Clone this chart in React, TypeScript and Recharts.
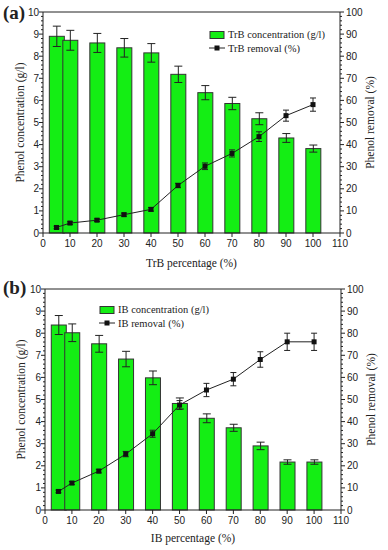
import { ComposedChart, Bar, Line, XAxis, YAxis, ErrorBar, Legend } from 'recharts'

const percentages = [5, 10, 20, 30, 40, 50, 60, 70, 80, 90, 100]

const trbConc = [8.9, 8.72, 8.6, 8.38, 8.15, 7.18, 6.35, 5.86, 5.17, 4.3, 3.82]
const trbConcErr = [0.46, 0.45, 0.43, 0.42, 0.42, 0.37, 0.32, 0.28, 0.27, 0.2, 0.16]
const trbRemoval = [2.5, 4.5, 5.8, 8.3, 10.7, 21.5, 30.2, 36, 43.6, 53.1, 58.1]
const trbRemovalErr = [0.6, 0.6, 0.6, 0.7, 0.8, 1.0, 1.5, 1.6, 2.2, 2.5, 3]

const ibConc = [8.37, 8.02, 7.52, 6.83, 5.98, 4.82, 4.15, 3.72, 2.9, 2.17, 2.17]
const ibConcErr = [0.43, 0.4, 0.38, 0.35, 0.31, 0.25, 0.2, 0.16, 0.17, 0.1, 0.1]
const ibRemoval = [8.4, 12.2, 17.6, 25.3, 34.5, 47.5, 54.3, 59.2, 68.1, 76.1, 76.1]
const ibRemovalErr = [0.6, 0.7, 0.8, 1.2, 1.6, 2, 3, 3, 3.5, 3.9, 3.9]

const xTicks = [0, 10, 20, 30, 40, 50, 60, 70, 80, 90, 100, 110]
const leftTicks = Array.from({ length: 51 }, (_, i) => Math.round(i * 2) / 10)
const rightTicks = Array.from({ length: 51 }, (_, i) => i * 2)

const GREEN = '#14ee14'
const INK = '#222'
const SERIF = '"Liberation Serif", "Times New Roman", serif'
const SANS = '"Liberation Sans", Arial, sans-serif'
const TICK_SIZE = 3
const TICK_MARGIN = 1

function LeftTick(props: any) {
  const { x, y, payload } = props
  const v = payload.value
  const major = Math.abs(v - Math.round(v)) < 1e-6
  const ax = x + TICK_SIZE + TICK_MARGIN
  return (
    <g>
      <line x1={ax} x2={ax - (major ? 4 : 2)} y1={y} y2={y} stroke={INK} />
      {major && (
        <text x={x} y={y} dy="0.35em" textAnchor="end" fontSize={10} fontFamily={SANS} fill={INK}>
          {Math.round(v)}
        </text>
      )}
    </g>
  )
}

function RightTick(props: any) {
  const { x, y, payload } = props
  const v = payload.value
  const major = v % 10 === 0
  const ax = x - TICK_SIZE - TICK_MARGIN
  return (
    <g>
      <line x1={ax} x2={ax + (major ? 4 : 2)} y1={y} y2={y} stroke={INK} />
      {major && (
        <text x={x + 2} y={y} dy="0.35em" textAnchor="start" fontSize={10} fontFamily={SANS} fill={INK}>
          {v}
        </text>
      )}
    </g>
  )
}

function BarShape(props: any) {
  const { x, y, width, height } = props
  const w = 15
  const cx = x + width / 2
  return <rect x={cx - w / 2} y={y} width={w} height={height} fill={GREEN} stroke="#333" strokeWidth={1} />
}

function SquareDot(props: any) {
  const { cx, cy } = props
  if (cx == null || cy == null) return null
  return <rect x={cx - 2.5} y={cy - 2.5} width={5} height={5} fill="#111" />
}

function LegendBox({ name }: { name: string }) {
  const row = { display: 'flex', alignItems: 'center', height: 13.5 }
  const txt = { fontFamily: SERIF, fontSize: 10.5, color: INK, marginLeft: 3, whiteSpace: 'nowrap' as const }
  return (
    <div>
      <div style={row}>
        <svg width={16} height={10}>
          <rect x={1} y={1.5} width={14} height={7} fill={GREEN} stroke="#333" />
        </svg>
        <span style={txt}>{name} concentration (g/l)</span>
      </div>
      <div style={row}>
        <svg width={16} height={10}>
          <line x1={0} x2={16} y1={5} y2={5} stroke={INK} strokeWidth={1} />
          <rect x={5.5} y={2.5} width={5} height={5} fill="#111" />
        </svg>
        <span style={txt}>{name} removal (%)</span>
      </div>
    </div>
  )
}

interface PanelProps {
  tag: string
  name: string
  conc: number[]
  concErr: number[]
  removal: number[]
  removalErr: number[]
  top: number
  marginTop: number
  leftWidth: number
  rightWidth: number
  legendLeft: number
}

function Panel({ tag, name, conc, concErr, removal, removalErr, top, marginTop, leftWidth, rightWidth, legendLeft }: PanelProps) {
  const data = percentages.map((p, i) => ({
    pct: p,
    conc: conc[i],
    concErr: concErr[i],
    rem: removal[i],
    remErr: removalErr[i],
  }))
  const plotBottom = marginTop + 1 + 220
  return (
    <div style={{ position: 'absolute', left: 0, top, width: 388, height: 275 }}>
      <ComposedChart width={388} height={275} data={data} margin={{ top: marginTop, right: 0, left: 0, bottom: 0 }}>
        <XAxis
          dataKey="pct"
          type="number"
          domain={[0, 110]}
          ticks={xTicks}
          interval={0}
          height={275 - plotBottom}
          tickSize={4}
          tickMargin={3}
          stroke={INK}
          tick={{ fontSize: 10, fontFamily: SANS, fill: INK }}
          label={{ value: `${name} percentage (%)`, position: 'insideBottom', offset: 8, style: { fontFamily: SERIF, fontSize: 11.5, fill: INK } }}
        />
        <XAxis
          xAxisId="top"
          dataKey="pct"
          type="number"
          orientation="top"
          domain={[0, 110]}
          ticks={xTicks}
          interval={0}
          height={1}
          mirror
          tick={false}
          tickSize={4}
          stroke={INK}
        />
        <YAxis
          yAxisId="conc"
          domain={[0, 10]}
          ticks={leftTicks}
          interval={0}
          width={leftWidth}
          tickSize={TICK_SIZE}
          tickMargin={TICK_MARGIN}
          tickLine={false}
          stroke={INK}
          tick={<LeftTick />}
          label={{ value: 'Phenol concentration (g/l)', angle: -90, position: 'center', dx: -2, style: { fontFamily: SERIF, fontSize: 11.5, fill: INK } }}
        />
        <YAxis
          yAxisId="rem"
          orientation="right"
          domain={[0, 100]}
          ticks={rightTicks}
          interval={0}
          width={rightWidth}
          tickSize={TICK_SIZE}
          tickMargin={TICK_MARGIN}
          tickLine={false}
          stroke={INK}
          tick={<RightTick />}
          label={{ value: 'Phenol removal (%)', angle: -90, position: 'center', dx: 6, style: { fontFamily: SERIF, fontSize: 11.5, fill: INK } }}
        />
        <Bar yAxisId="conc" dataKey="conc" barSize={15} shape={<BarShape />} isAnimationActive={false}>
          <ErrorBar dataKey="concErr" width={4} stroke={INK} strokeWidth={1} direction="y" />
        </Bar>
        <Line
          yAxisId="rem"
          dataKey="rem"
          stroke={INK}
          strokeWidth={1}
          dot={<SquareDot />}
          activeDot={false}
          isAnimationActive={false}
        >
          <ErrorBar dataKey="remErr" width={3} stroke={INK} strokeWidth={1} direction="y" />
        </Line>
        <Legend
          layout="vertical"
          align="center"
          verticalAlign="middle"
          wrapperStyle={{ left: legendLeft, top: 28, width: 'auto' }}
          content={() => <LegendBox name={name} />}
        />
      </ComposedChart>
      <div style={{ position: 'absolute', left: 3, top: 2, fontFamily: SERIF, fontWeight: 'bold', fontSize: 19, color: INK }}>
        {tag}
      </div>
    </div>
  )
}

export default function App() {
  return (
    <div style={{ position: 'absolute', left: 0, top: 0, width: 388, height: 550, background: '#fff' }}>
      <Panel
        tag="(a)"
        name="TrB"
        conc={trbConc}
        concErr={trbConcErr}
        removal={trbRemoval}
        removalErr={trbRemovalErr}
        top={0}
        marginTop={12}
        leftWidth={43}
        rightWidth={48}
        legendLeft={209}
      />
      <Panel
        tag="(b)"
        name="IB"
        conc={ibConc}
        concErr={ibConcErr}
        removal={ibRemoval}
        removalErr={ibRemovalErr}
        top={275}
        marginTop={14}
        leftWidth={45}
        rightWidth={47}
        legendLeft={99}
      />
    </div>
  )
}
